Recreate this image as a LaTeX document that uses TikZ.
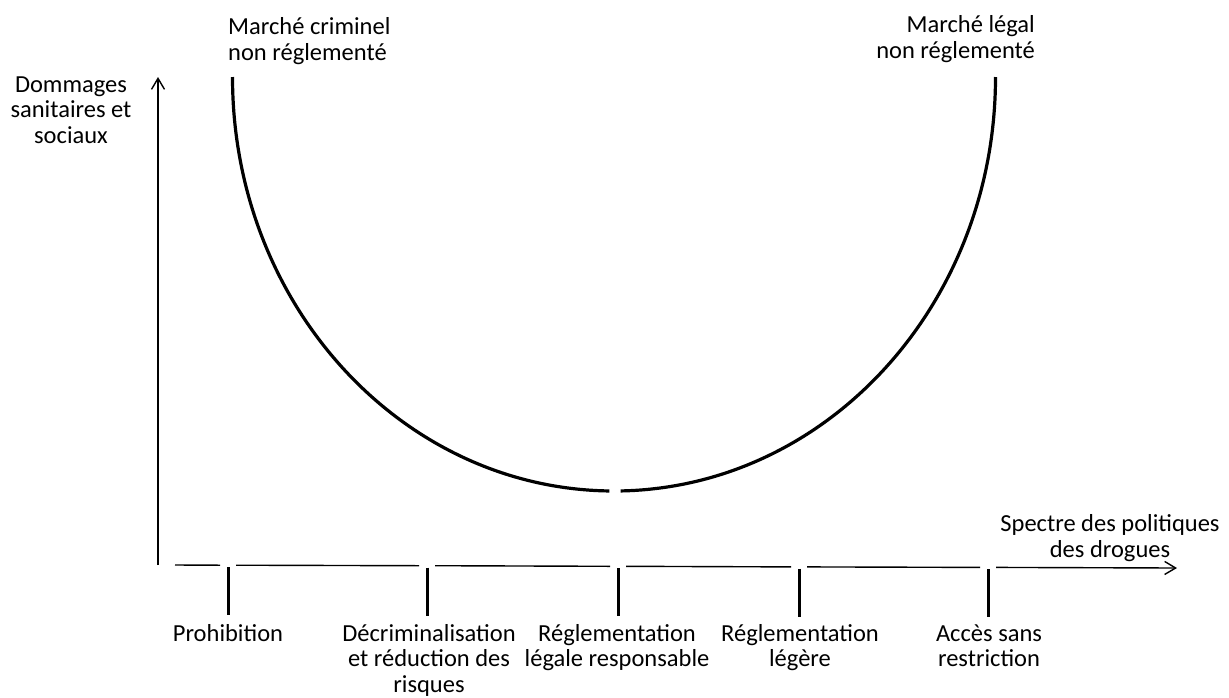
\documentclass[tikz,border=0pt]{standalone}
\usepackage{fontspec}
\setmainfont{Carlito}
\usetikzlibrary{arrows.meta,calc}
\begin{document}
\begin{tikzpicture}[x=1pt,y=1pt,
  lbl/.style={font=\fontsize{24.5}{25.5}\selectfont, inner sep=0pt, align=center},
  axisline/.style={line width=1.4pt},
  tickmark/.style={line width=3pt},
  curveline/.style={line width=3.2pt},
  tip/.style={-{Straight Barb[length=11pt,width=13pt,line width=1.4pt]}}]
\useasboundingbox (0,0) rectangle (1229,-697);
% vertical axis
\coordinate (O) at (158,-565);
\coordinate (Ytop) at (158,-77);
\draw[axisline,tip] (O) -- (Ytop);
% horizontal axis points
\coordinate (a0) at (175,-565);
\coordinate (p1) at (228,-565.2);
\coordinate (p2) at (427,-565.7);
\coordinate (p3) at (618,-566.3);
\coordinate (p4) at (799,-566.9);
\coordinate (p5) at (988,-567.4);
\coordinate (aend) at (1177,-568);
\draw[axisline] (a0) -- ($(p1)+(-8,0)$);
\draw[axisline] ($(p1)+(8,0)$) -- ($(p2)+(-8,0)$);
\draw[axisline] ($(p2)+(8,0)$) -- ($(p3)+(-8,0)$);
\draw[axisline] ($(p3)+(8,0)$) -- ($(p4)+(-8,0)$);
\draw[axisline] ($(p4)+(8,0)$) -- ($(p5)+(-8,0)$);
\draw[axisline,tip] ($(p5)+(8,0)$) -- (aend);
% ticks
\foreach \p in {p1,p2,p3,p4,p5}{
  \draw[tickmark] ($(\p)+(0,-2)$) -- ($(\p)+(0,-50)$);
}
% U curve
\coordinate (c) at (614,-77);
\draw[curveline] (c) ++(180:381.5 and 414) arc[start angle=180,end angle=269.3,x radius=381.5,y radius=414];
\draw[curveline] (c) ++(271:381.5 and 414) arc[start angle=271,end angle=360,x radius=381.5,y radius=414];
% labels (anchor = baseline of the last line)
\node[lbl, align=left, anchor=base west] (crim) at (228,-60) {Marché criminel\\non réglementé};
\node[lbl, align=right, anchor=base east] (legal) at (1035,-58) {Marché légal\\non réglementé};
\node[lbl, anchor=base] (dom) at (71,-143) {Dommages\\sanitaires et\\sociaux};
\node[lbl, anchor=base] (spec) at (1110,-557) {Spectre des politiques\\des drogues};
\node[lbl, anchor=base] (l1) at (228,-641) {Prohibition};
\node[lbl, anchor=base] (l2) at (429,-692) {Décriminalisation\\et réduction des\\risques};
\node[lbl, anchor=base] (l3) at (617,-666.5) {Réglementation\\légale responsable};
\node[lbl, anchor=base] (l4) at (800,-666.5) {Réglementation\\légère};
\node[lbl, anchor=base] (l5) at (989,-666.5) {Accès sans\\restriction};
\end{tikzpicture}
\end{document}
